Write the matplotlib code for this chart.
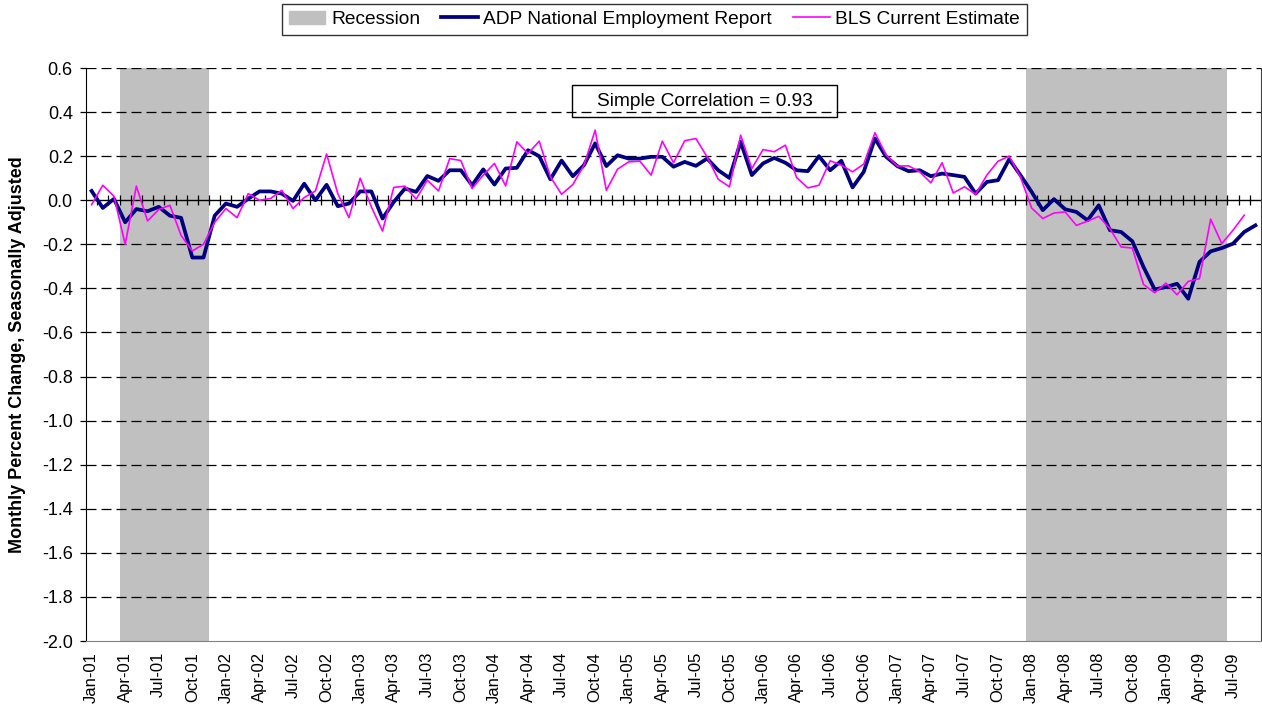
import matplotlib
matplotlib.use("Agg")
import matplotlib.pyplot as plt
import matplotlib.patches as mpatches
from matplotlib.lines import Line2D
import pandas as pd

plt.rcParams['font.family'] = ['Liberation Sans', 'DejaVu Sans']

# Monthly categories Jan-01 .. Sep-09
months = [d.strftime('%b-%y') for d in pd.date_range('2001-01-01', '2009-09-01', freq='MS')]

adp = [0.042, -0.035, 0.006, -0.10, -0.04, -0.05, -0.03, -0.07, -0.08, -0.26,
       -0.26, -0.07, -0.015, -0.03, 0.007, 0.04, 0.04, 0.03, -0.003, 0.075,
       0.0, 0.07, -0.027, -0.015, 0.04, 0.04, -0.083, -0.008, 0.053, 0.038,
       0.11, 0.088, 0.136, 0.136, 0.068, 0.14, 0.071, 0.144, 0.147, 0.227,
       0.20, 0.095, 0.18, 0.109, 0.159, 0.258, 0.155, 0.204, 0.189, 0.189,
       0.197, 0.197, 0.152, 0.174, 0.156, 0.189, 0.136, 0.101, 0.265, 0.114,
       0.167, 0.192, 0.17, 0.136, 0.132, 0.20, 0.136, 0.179, 0.058, 0.129,
       0.28, 0.197, 0.155, 0.132, 0.136, 0.109, 0.121, 0.114, 0.106, 0.03,
       0.083, 0.091, 0.186, 0.114, 0.038, -0.045, 0.005, -0.041, -0.053, -0.091,
       -0.023, -0.136, -0.144, -0.186, -0.303, -0.405, -0.394, -0.379, -0.447, -0.28,
       -0.232, -0.217, -0.197, -0.144, -0.114]

bls = [-0.02, 0.068, 0.018, -0.20, 0.064, -0.094, -0.042, -0.023, -0.16, -0.23,
       -0.20, -0.10, -0.038, -0.079, 0.03, 0.0, 0.008, 0.045, -0.038, 0.012,
       0.042, 0.21, 0.03, -0.079, 0.10, -0.03, -0.14, 0.058, 0.064, 0.005,
       0.091, 0.042, 0.189, 0.18, 0.053, 0.114, 0.167, 0.065, 0.265, 0.212,
       0.268, 0.106, 0.027, 0.071, 0.159, 0.318, 0.045, 0.141, 0.174, 0.177,
       0.114, 0.268, 0.17, 0.27, 0.28, 0.197, 0.095, 0.061, 0.295, 0.144,
       0.23, 0.22, 0.25, 0.103, 0.056, 0.068, 0.179, 0.159, 0.129, 0.164,
       0.306, 0.205, 0.155, 0.156, 0.129, 0.079, 0.17, 0.033, 0.061, 0.027,
       0.114, 0.177, 0.20, 0.106, -0.035, -0.083, -0.058, -0.053, -0.114, -0.095,
       -0.073, -0.129, -0.212, -0.217, -0.382, -0.42, -0.376, -0.429, -0.368, -0.356,
       -0.086, -0.197, -0.136, -0.068]

recession_start = ['Apr-01', 'Jan-08']
recession_end = ['Nov-01', 'Jun-09']

yticks = [round(0.6 - 0.2 * k, 1) for k in range(14)]

fig = plt.figure(figsize=(12.62, 7.15), dpi=100)
ax = fig.add_axes([86 / 1262, 1 - 641 / 715, (1261 - 86) / 1262, (641 - 68) / 715])

for s, e in zip(recession_start, recession_end):
    ax.axvspan(months.index(s) - 0.5, months.index(e) + 0.5, color='#C0C0C0', lw=0, zorder=0)

for yv in yticks:
    if abs(yv) > 1e-9 and yv > -1.99:
        ax.axhline(yv, color='black', lw=0.9, ls=(0, (8, 4)), zorder=1)

ax.axhline(0, color='black', lw=1.0, zorder=2)
bounds = [i - 0.5 for i in range(1, len(months))]
ax.plot(bounds, [0] * len(bounds), ls='none', marker='|', ms=7, mew=0.9, color='black', zorder=2)

x_adp = list(range(len(adp)))
x_bls = list(range(len(bls)))
ax.plot(x_adp, adp, color='#000080', lw=2.7, zorder=4)
ax.plot(x_bls, bls, color='#FF00FF', lw=1.2, zorder=5)

ax.set_xlim(-0.5, len(months) - 0.5)
ax.set_ylim(-2.0, 0.6)
ax.set_yticks(yticks)
ax.set_yticklabels([f'{v + 0.0:.1f}' for v in yticks], fontsize=13)
ax.tick_params(axis='y', direction='out', length=4.5, width=0.9, pad=5)

tick_idx = list(range(0, len(months), 3))
ax.set_xticks(tick_idx)
ax.set_xticklabels([months[i] for i in tick_idx], rotation=90, fontsize=12)
ax.tick_params(axis='x', length=0, pad=8)

ax.spines['top'].set_visible(False)
ax.spines['left'].set_color('black')
ax.spines['bottom'].set_color('#808080')
ax.spines['right'].set_color('#404040')

ax.set_ylabel('Monthly Percent Change, Seasonally Adjusted', fontsize=13, fontweight='bold')
ax.yaxis.set_label_coords((26 - 86) / 1175, 0.5)

# Correlation annotation box (transparent, gridline shows through)
ax.add_patch(mpatches.Rectangle(((572 - 86) / 1175, (641 - 117) / 573), 265 / 1175, 32 / 573,
                                transform=ax.transAxes, facecolor='none', edgecolor='black',
                                lw=1.0, zorder=6))
ax.text((704.5 - 86) / 1175, (641 - 101) / 573, 'Simple Correlation = 0.93', transform=ax.transAxes,
        ha='center', va='center', fontsize=13.8, zorder=6)

handles = [mpatches.Patch(color='#C0C0C0', label='Recession'),
           Line2D([], [], color='#000080', lw=2.7, label='ADP National Employment Report'),
           Line2D([], [], color='#FF00FF', lw=1.2, label='BLS Current Estimate')]
leg = fig.legend(handles=handles, loc='center', bbox_to_anchor=(654.5 / 1262, 1 - 19.5 / 715), ncol=3,
                 fontsize=13.8, frameon=True, fancybox=False, edgecolor='black', handlelength=1.9,
                 handletextpad=0.3, columnspacing=1.1, borderpad=0.35)
leg.get_frame().set_linewidth(1.0)

fig.savefig('out.png', dpi=100)
